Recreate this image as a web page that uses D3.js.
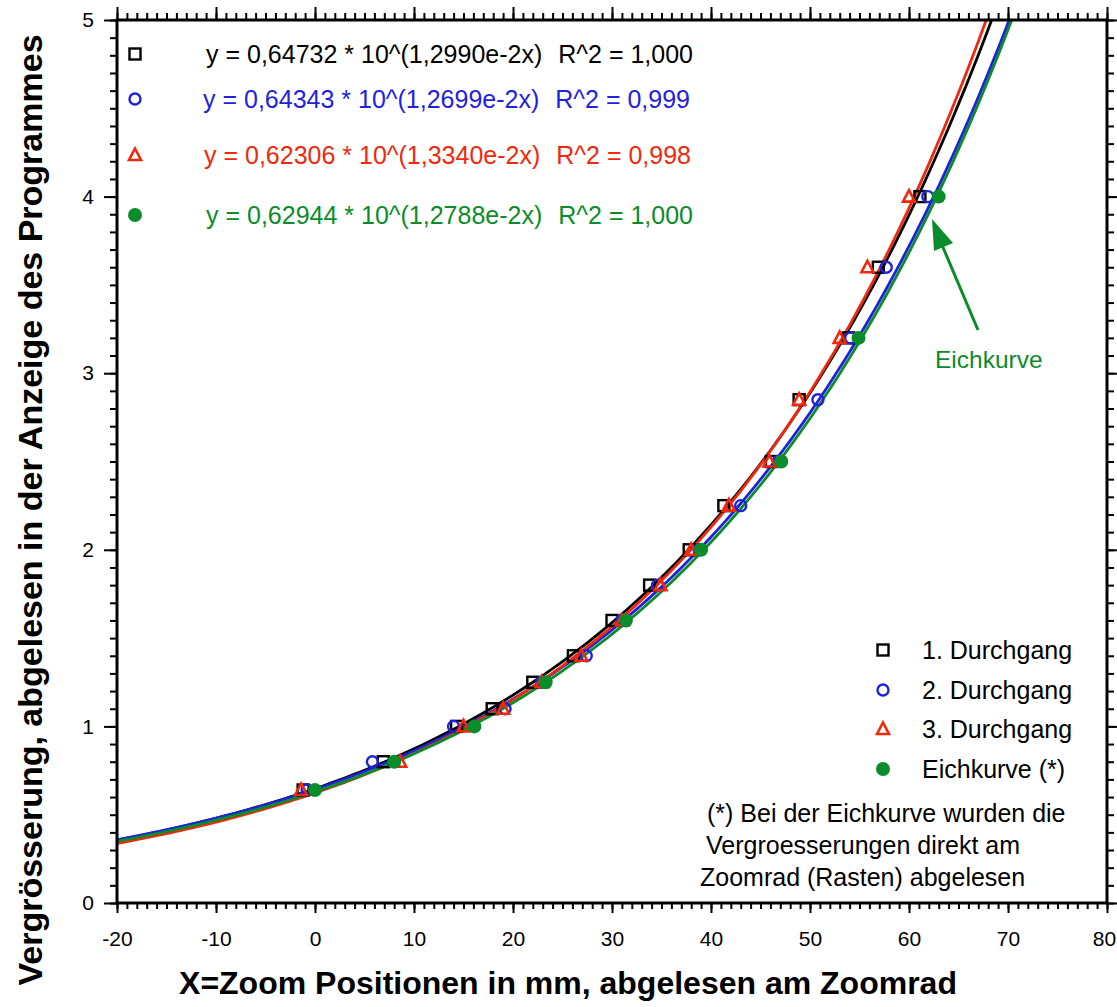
<!DOCTYPE html>
<html>
<head>
<meta charset="utf-8">
<script src="https://cdn.jsdelivr.net/npm/d3@7"></script>
<style>
  body { margin: 0; background: #fff; }
  svg { display: block; font-family: "Liberation Sans", Arial, sans-serif; }
</style>
</head>
<body>
<div class="chart"></div>
<script>
// series data: [x in mm, magnification]
const durchgang1 = [[-1.2,0.64],[6.9,0.8],[14.3,1.0],[17.9,1.1],[22.0,1.25],[26.1,1.4],[30.0,1.6],[33.8,1.8],[37.8,2.0],[41.3,2.25],[46.1,2.5],[48.9,2.85],[53.9,3.2],[56.9,3.6],[61.1,4.0]];
const durchgang2 = [[-0.8,0.64],[5.8,0.8],[14.0,1.0],[19.2,1.1],[22.9,1.25],[27.4,1.4],[31.0,1.6],[34.6,1.8],[38.8,2.0],[43.0,2.25],[46.8,2.5],[50.8,2.85],[54.1,3.2],[57.7,3.6],[61.9,4.0]];
const durchgang3 = [[-1.4,0.64],[8.6,0.8],[15.0,1.0],[19.0,1.1],[22.9,1.25],[26.9,1.4],[31.0,1.6],[34.9,1.8],[38.0,2.0],[41.8,2.25],[45.9,2.5],[48.9,2.85],[53.0,3.2],[55.8,3.6],[60.0,4.0]];
const eichkurve = [[0,0.64],[8.0,0.8],[16.1,1.0],[23.3,1.25],[31.4,1.6],[39.0,2.0],[47.1,2.5],[54.9,3.2],[63.0,4.0]];

// fit coefficients printed on the chart: y = a * 10^(b*x)
const fitA = [0.64732, 0.64343, 0.62306, 0.62944];
const fitB = [1.2990e-2, 1.2699e-2, 1.3340e-2, 1.2788e-2];
const fitEq = [
  "y = 0,64732 * 10^(1,2990e-2x)",
  "y = 0,64343 * 10^(1,2699e-2x)",
  "y = 0,62306 * 10^(1,3340e-2x)",
  "y = 0,62944 * 10^(1,2788e-2x)"
];
const fitR2 = ["R^2 = 1,000", "R^2 = 0,999", "R^2 = 0,998", "R^2 = 1,000"];
const seriesNames = ["1. Durchgang", "2. Durchgang", "3. Durchgang", "Eichkurve (*)"];
const noteLines = ["(*) Bei der Eichkurve wurden die", "Vergroesserungen direkt am", "Zoomrad (Rasten) abgelesen"];
const xTicks = [-20, -10, 0, 10, 20, 30, 40, 50, 60, 70, 80];
const yTicks = [0, 1, 2, 3, 4, 5];

function init(){
    const w = 1117, h = 1007;
    const left = 117, right = 1107, top = 20, bottom = 903;
    const colors = ["#000000", "#1f22dd", "#f0280c", "#0b8c2a"];
    const symbols = ["square", "circle", "triangle", "dot"];
    const allSeries = [durchgang1, durchgang2, durchgang3, eichkurve];

    const x = d3.scaleLinear().domain([-20, 80]).range([left, right]);
    const y = d3.scaleLinear().domain([0, 5]).range([bottom, top]);

    const svg = d3.select(".chart").append("svg").attr("width", w).attr("height", h);

    svg.append("defs").append("clipPath").attr("id", "plot")
      .append("rect").attr("x", left).attr("y", top).attr("width", right - left).attr("height", bottom - top);

    // fitted curves
    const line = d3.line().x(d => x(d[0])).y(d => y(d[1]));
    fitA.forEach(function(a, i){
        const pts = d3.range(-20, 80.01, 0.5).map(v => [v, a * Math.pow(10, fitB[i] * v)]);
        svg.append("path")
          .attr("clip-path", "url(#plot)")
          .attr("d", line(pts))
          .attr("fill", "none")
          .attr("stroke", colors[i])
          .attr("stroke-width", 2.8);
    });

    // marker drawing
    function marker(g, type, color, cx, cy){
        if (type == "square"){
            g.append("rect").attr("x", cx - 5.5).attr("y", cy - 5.5).attr("width", 11).attr("height", 11)
              .attr("fill", "none").attr("stroke", color).attr("stroke-width", 2.4);
        } else if (type == "circle"){
            g.append("circle").attr("cx", cx).attr("cy", cy).attr("r", 5.5)
              .attr("fill", "none").attr("stroke", color).attr("stroke-width", 2.4);
        } else if (type == "triangle"){
            g.append("path").attr("d", `M${cx},${cy - 6.5}L${cx + 6},${cy + 5}L${cx - 6},${cy + 5}Z`)
              .attr("fill", "none").attr("stroke", color).attr("stroke-width", 2.6);
        } else {
            g.append("circle").attr("cx", cx).attr("cy", cy).attr("r", 7).attr("fill", color);
        }
    }

    const pg = svg.append("g");
    allSeries.forEach(function(s, i){
        s.forEach(d => marker(pg, symbols[i], colors[i], x(d[0]), y(d[1])));
    });

    // axes: major + minor ticks, outward
    const xMinor = d3.range(-20, 80.01, 1);
    const yMinor = d3.range(0, 5.001, 0.1);
    function styleAxis(g){
        g.select(".domain").remove();
        g.selectAll(".tick line").attr("stroke", "#000").attr("stroke-width", 2);
        g.selectAll(".tick text").attr("font-size", 21).attr("font-family", "Liberation Sans, Arial, sans-serif").attr("fill", "#000");
    }
    svg.append("g").attr("transform", `translate(0,${bottom})`)
      .call(d3.axisBottom(x).tickValues(xMinor).tickSize(6).tickFormat(""))
      .call(styleAxis);
    const xAx = svg.append("g").attr("transform", `translate(0,${bottom})`)
      .call(d3.axisBottom(x).tickValues(xTicks).tickSize(10).tickPadding(18).tickFormat(d => String(d)))
      .call(styleAxis);
    xAx.selectAll(".tick text").filter(d => d == 80).attr("dx", -3);
    svg.append("g").attr("transform", `translate(0,${top})`)
      .call(d3.axisTop(x).tickValues(xMinor).tickSize(7).tickFormat(""))
      .call(styleAxis);
    svg.append("g").attr("transform", `translate(0,${top})`)
      .call(d3.axisTop(x).tickValues(xTicks).tickSize(13).tickFormat(""))
      .call(styleAxis);
    svg.append("g").attr("transform", `translate(${left},0)`)
      .call(d3.axisLeft(y).tickValues(yMinor).tickSize(7).tickFormat(""))
      .call(styleAxis);
    svg.append("g").attr("transform", `translate(${left},0)`)
      .call(d3.axisLeft(y).tickValues(yTicks).tickSize(13).tickPadding(10).tickFormat(d => String(d)))
      .call(styleAxis);
    svg.append("g").attr("transform", `translate(${right},0)`)
      .call(d3.axisRight(y).tickValues(yMinor).tickSize(7).tickFormat(""))
      .call(styleAxis);
    svg.append("g").attr("transform", `translate(${right},0)`)
      .call(d3.axisRight(y).tickValues(yTicks).tickSize(11).tickFormat(""))
      .call(styleAxis);

    svg.append("rect").attr("x", left).attr("y", top).attr("width", right - left).attr("height", bottom - top)
      .attr("fill", "none").attr("stroke", "#000").attr("stroke-width", 3);

    // fit equations top-left
    const eqY = [54, 99, 155, 215];
    const eqX = [206, 203, 204, 206];
    fitEq.forEach(function(t, i){
        marker(svg, symbols[i], colors[i], 135, eqY[i]);
        const tx = svg.append("text").attr("x", eqX[i]).attr("y", eqY[i] + 9)
          .attr("font-size", 25).attr("fill", colors[i]).text(t);
        const wEq = tx.node().getComputedTextLength();
        svg.append("text").attr("x", eqX[i] + wEq + 16).attr("y", eqY[i] + 9)
          .attr("font-size", 25).attr("fill", colors[i]).text(fitR2[i]);
    });

    // legend bottom-right
    const legY = [650, 690, 729, 769];
    seriesNames.forEach(function(n, i){
        marker(svg, symbols[i], colors[i], 883, legY[i]);
        svg.append("text").attr("x", 922).attr("y", legY[i] + 9)
          .attr("font-size", 25).attr("fill", "#000").text(n);
    });
    const noteX = [707, 706, 700];
    const noteY = [822, 854, 886];
    noteLines.forEach(function(t, i){
        svg.append("text").attr("x", noteX[i]).attr("y", noteY[i]).attr("font-size", 25).attr("fill", "#000").text(t);
    });

    // Eichkurve annotation arrow
    svg.append("line").attr("x1", 978).attr("y1", 330).attr("x2", 942).attr("y2", 245)
      .attr("stroke", colors[3]).attr("stroke-width", 3);
    svg.append("path").attr("d", "M932,219L953,243L934,251Z").attr("fill", colors[3]);
    svg.append("text").attr("x", 935).attr("y", 368).attr("font-size", 24.5).attr("fill", colors[3]).text("Eichkurve");

    // axis titles
    svg.append("text").attr("x", 568).attr("y", 994).attr("text-anchor", "middle")
      .attr("font-size", 32).attr("font-weight", "bold").text("X=Zoom Positionen in mm, abgelesen am Zoomrad");
    svg.append("text").attr("transform", `translate(42,${510}) rotate(-90)`).attr("text-anchor", "middle")
      .attr("font-size", 34).attr("font-weight", "bold").text("Vergrösserung, abgelesen in der Anzeige des Programmes");
}
window.onload = init;
</script>
</body>
</html>
